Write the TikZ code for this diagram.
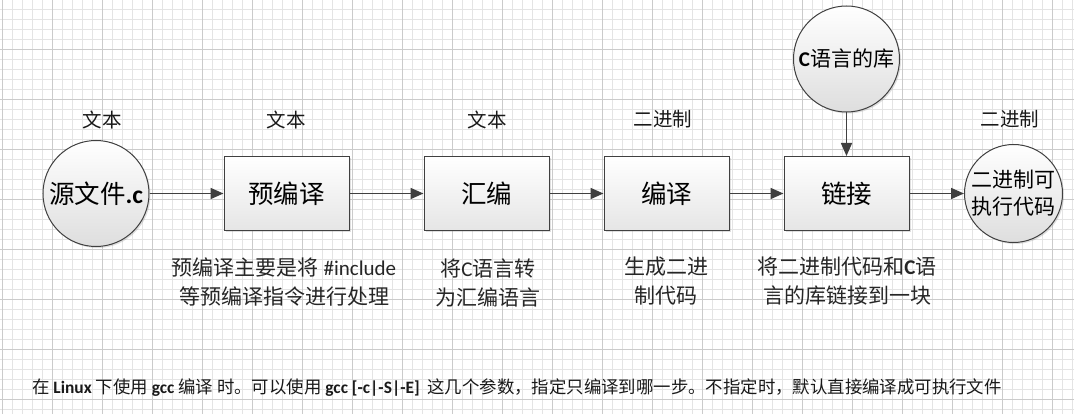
\documentclass[tikz,border=0pt]{standalone}
\usepackage{fontspec}
\setmainfont{Noto Sans CJK SC}
\newfontfamily\lat{Carlito}
\usetikzlibrary{arrows.meta,shadows}
\definecolor{edgegray}{HTML}{404040}
\definecolor{gridminor}{HTML}{E4E4E4}
\definecolor{gridmajor}{HTML}{CBCBCB}
\tikzset{
  stepbox/.style={draw=edgegray, line width=1pt, top color=white, bottom color=black!10,
    minimum width=125pt, minimum height=74pt, inner sep=0pt, font=\fontsize{25.5}{30}\selectfont,
    drop shadow={shadow xshift=1.5pt, shadow yshift=-1.5pt, opacity=.25, fill=black!50}},
  endcircle/.style={circle, draw=edgegray, line width=1pt, top color=white, bottom color=black!13,
    inner sep=0pt, align=center,
    drop shadow={shadow xshift=1.5pt, shadow yshift=-1.5pt, opacity=.25, fill=black!50}},
  kindlabel/.style={font=\fontsize{19.5}{24}\selectfont, text=black!90},
  notelabel/.style={font=\fontsize{21}{29}\selectfont, align=center, text=black!85},
  flow/.style={draw=edgegray, line width=1.6pt, -{Triangle[length=13pt,width=11pt]}},
}
\begin{document}
\begin{tikzpicture}[x=1pt, y=-1pt]
			%%%%% START %%%%%
			\useasboundingbox (0, 0) rectangle (1074, 414);
			\fill[white] (0, 0) rectangle (1074, 414);
			
			% grid
			\foreach \gx in {0,...,107} \draw[gridminor, line width=0.8pt] ({2.7+10*\gx}, 0) -- ({2.7+10*\gx}, 414);
			\foreach \gy in {0,...,40} \draw[gridminor, line width=0.8pt] (0, {9.3+10*\gy}) -- (1074, {9.3+10*\gy});
			\foreach \gx in {0,...,21} \draw[gridmajor, line width=0.8pt] ({2.7+50*\gx}, 0) -- ({2.7+50*\gx}, 414);
			\foreach \gy in {1,...,8} \draw[gridmajor, line width=0.8pt] (0, {-0.7+50*\gy}) -- (1074, {-0.7+50*\gy});
			
			% source and libraries
			\node[endcircle, minimum size=106pt, font=\fontsize{25.5}{30}\selectfont] (src) at (96, 193.5) {源文件{\lat\bfseries .c}};
			\node[endcircle, minimum size=106pt, font=\fontsize{21}{26}\selectfont] (lib) at (846.5, 59) {{\lat\bfseries C}语言的库};
			\node[endcircle, minimum size=98pt, font=\fontsize{21}{27}\selectfont] (exe) at (1013.5, 193.5) {二进制可\\执行代码};
			
			% steps
			\node[stepbox] (pre) at (286.5, 193.5) {预编译};
			\node[stepbox] (asm) at (486.5, 193.5) {汇编};
			\node[stepbox] (cmp) at (666.5, 193.5) {编译};
			\node[stepbox] (lnk) at (846.5, 193.5) {链接};
			
			% arrows
			\draw[flow] (src) -- (pre);
			\draw[flow] (pre) -- (asm);
			\draw[flow] (asm) -- (cmp);
			\draw[flow] (cmp) -- (lnk);
			\draw[flow] (lnk) -- (exe);
			\draw[flow] (lib) -- (lnk);
			
			% kind of output
			\node[kindlabel] (srckind) at (102, 120) {文本};
			\node[kindlabel] (prekind) at (286, 120) {文本};
			\node[kindlabel] (asmkind) at (487, 120) {文本};
			\node[kindlabel] (cmpkind) at (663, 119) {二进制};
			\node[kindlabel] (exekind) at (1010, 119) {二进制};
			
			% notes under the steps
			\node[notelabel] (prenote) at (284, 282.5) {预编译主要是将 {\lat \#include}\\等预编译指令进行处理};
			\node[notelabel] (asmnote) at (488, 282.5) {将{\lat C}语言转\\为汇编语言};
			\node[notelabel] (cmpnote) at (666, 281) {生成二进\\制代码};
			\node[notelabel] (lnknote) at (847, 281) {将二进制代码和{\lat\bfseries C}语\\言的库链接到一块};
			
			\node[anchor=west, font=\fontsize{17.4}{20}\selectfont, text=black!90, inner sep=0pt] (gccnote) at (32, 388)
			{在 {\lat\bfseries Linux} 下使用 {\lat\bfseries gcc} 编译 时。可以使用 {\lat\bfseries gcc [-c|-S|-E]}\ \ 这几个参数，指定只编译到哪一步。不指定时，默认直接编译成可执行文件};
			%%%%% END %%%%%
\end{tikzpicture}
\end{document}
